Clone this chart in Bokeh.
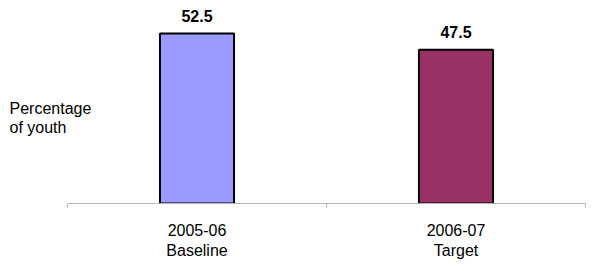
from bokeh.plotting import figure
from bokeh.models import Range1d, FixedTicker, Label, ColumnDataSource
from bokeh.core.properties import value
from bokeh.embed import file_html
from bokeh.resources import INLINE

categories = ["2005-06\nBaseline", "2006-07\nTarget"]
values = [52.5, 47.5]
value_labels = ["52.5", "47.5"]
colors = ["#9999FF", "#993366"]
y_title_lines = ["Percentage", "of youth"]

n = len(categories)
centers = [i + 0.5 for i in range(n)]
bounds = [float(i) for i in range(n + 1)]
unit_px = 259.0
left_pad = 67 / unit_px

p = figure(width=596, height=271, output_backend="svg", toolbar_location=None,
           x_range=Range1d(-left_pad, n), y_range=Range1d(0, 62.7),
           min_border_left=0, min_border_right=11, min_border_top=0,
           min_border_bottom=68)
p.outline_line_color = None
p.xgrid.visible = False
p.ygrid.visible = False
p.yaxis.visible = False
p.background_fill_color = "white"
p.border_fill_color = "white"

src = ColumnDataSource(dict(x=centers, top=values, color=colors, lab=value_labels))
p.vbar(x="x", top="top", bottom=0, width=0.286, fill_color="color",
       line_color="black", line_width=2, source=src)
p.text(x="x", y="top", text="lab", source=src, text_align="center",
       text_baseline="bottom", y_offset=-12, text_font=value("Liberation Sans"),
       text_font_size="16px", text_font_style="bold", text_color="black")

ax = p.xaxis[0]
ax.bounds = (0, n)
ax.ticker = FixedTicker(ticks=centers, minor_ticks=bounds)
ax.major_label_overrides = {c: lab for c, lab in zip(centers, categories)}
ax.axis_line_color = "#b4b4b4"
ax.axis_line_width = 1
ax.major_tick_line_color = None
ax.major_tick_out = 0
ax.major_tick_in = 0
ax.minor_tick_line_color = "#b4b4b4"
ax.minor_tick_out = 4
ax.minor_tick_in = 0
ax.major_label_standoff = 14
ax.major_label_text_font = "Liberation Sans"
ax.major_label_text_font_size = "12pt"
ax.major_label_text_color = "black"

for i, t in enumerate(y_title_lines):
    p.add_layout(Label(x=-58 / unit_px, y=29.3 - i * 5.87, text=t, text_align="left",
                       text_baseline="middle", text_font="Liberation Sans",
                       text_font_size="16px", text_color="black"))

open("out.html", "w").write(file_html(p, INLINE))
